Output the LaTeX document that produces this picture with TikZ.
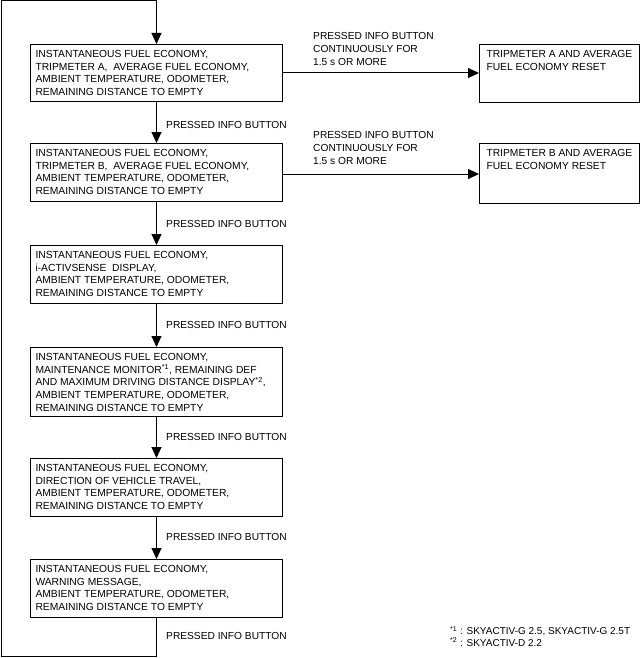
\documentclass[tikz,border=0pt]{standalone}
\usepackage{fontspec}
\setmainfont{Liberation Sans}
\usetikzlibrary{arrows.meta}
\newcommand\bxtext[3]{\parbox[t][#1][t]{#2}{\raggedright #3}}
\newcommand\fnmark[1]{\textsuperscript{*#1}}
\tikzset{
  box/.style={draw, line width=1pt, inner xsep=5pt, inner ysep=5.5pt, anchor=north west, font=\fontsize{10.3pt}{12.9pt}\selectfont},
  rbox/.style={box, inner xsep=7pt},
  flow/.style={line width=1pt, -{Triangle[length=11pt,width=10pt]}},
  lbl/.style={inner sep=0pt, font=\fontsize{10.2pt}{12.6pt}\selectfont, align=left}
}
\begin{document}
\begin{tikzpicture}[x=1pt,y=-1pt]
\useasboundingbox (0,0) rectangle (641,658);
\node[box] (b1) at (30,44) {\bxtext{46pt}{242pt}{INSTANTANEOUS FUEL ECONOMY,\\TRIPMETER A,\ \ AVERAGE FUEL ECONOMY,\\AMBIENT TEMPERATURE, ODOMETER,\\REMAINING DISTANCE TO EMPTY}};
\node[box] (b2) at (30,143) {\bxtext{47pt}{242pt}{INSTANTANEOUS FUEL ECONOMY,\\TRIPMETER B,\ \ AVERAGE FUEL ECONOMY,\\AMBIENT TEMPERATURE, ODOMETER,\\REMAINING DISTANCE TO EMPTY}};
\node[box] (b3) at (30,245) {\bxtext{47pt}{242pt}{INSTANTANEOUS FUEL ECONOMY,\\i-ACTIVSENSE\ \ DISPLAY,\\AMBIENT TEMPERATURE, ODOMETER,\\REMAINING DISTANCE TO EMPTY}};
\node[box] (b4) at (30,347) {\bxtext{58pt}{242pt}{INSTANTANEOUS FUEL ECONOMY,\\MAINTENANCE MONITOR\fnmark{1}, REMAINING DEF\\AND MAXIMUM DRIVING DISTANCE DISPLAY\fnmark{2},\\AMBIENT TEMPERATURE, ODOMETER,\\REMAINING DISTANCE TO EMPTY}};
\node[box] (b5) at (30,458) {\bxtext{47pt}{242pt}{INSTANTANEOUS FUEL ECONOMY,\\DIRECTION OF VEHICLE TRAVEL,\\AMBIENT TEMPERATURE, ODOMETER,\\REMAINING DISTANCE TO EMPTY}};
\node[box] (b6) at (30,559) {\bxtext{47pt}{242pt}{INSTANTANEOUS FUEL ECONOMY,\\WARNING MESSAGE,\\AMBIENT TEMPERATURE, ODOMETER,\\REMAINING DISTANCE TO EMPTY}};
\node[rbox] (ra) at (479,44) {\bxtext{47pt}{146pt}{TRIPMETER A AND AVERAGE\\FUEL ECONOMY RESET}};
\node[rbox] (rb) at (479,143) {\bxtext{49pt}{146pt}{TRIPMETER B AND AVERAGE\\FUEL ECONOMY RESET}};
% loop
\coordinate (lt) at (1,1);
\coordinate (lb) at (1,656);
\draw[flow] (b6.south) -- (b6.south |- lb) -- (lb) -- (lt) -- (b1.north |- lt) -- (b1.north);
\draw[flow] (b1.south) -- (b2.north);
\draw[flow] (b2.south) -- (b3.north);
\draw[flow] (b3.south) -- (b4.north);
\draw[flow] (b4.south) -- (b5.north);
\draw[flow] (b5.south) -- (b6.north);
\draw[flow] (b1.east |- 0,73) -- (ra.west |- 0,73);
\draw[flow] (b2.east |- 0,174) -- (rb.west |- 0,174);
% labels
\node[lbl, anchor=west] (p1) at (166,125) {PRESSED INFO BUTTON};
\node[lbl, anchor=west] (p2) at (166,224) {PRESSED INFO BUTTON};
\node[lbl, anchor=west] (p3) at (166,325) {PRESSED INFO BUTTON};
\node[lbl, anchor=west] (p4) at (166,437) {PRESSED INFO BUTTON};
\node[lbl, anchor=west] (p5) at (166,537) {PRESSED INFO BUTTON};
\node[lbl, anchor=west] (p6) at (166,636) {PRESSED INFO BUTTON};
\node[lbl, anchor=north west] (ha) at (313,32.5) {PRESSED INFO BUTTON\\CONTINUOUSLY FOR\\1.5 s OR MORE};
\node[lbl, anchor=north west] (hb) at (313,131.5) {PRESSED INFO BUTTON\\CONTINUOUSLY FOR\\1.5 s OR MORE};
\node[lbl, anchor=north west, font=\fontsize{10pt}{11.6pt}\selectfont] (fn) at (450,626) {\fnmark{1} : SKYACTIV-G 2.5, SKYACTIV-G 2.5T\\\fnmark{2} : SKYACTIV-D 2.2};
\end{tikzpicture}
\end{document}
